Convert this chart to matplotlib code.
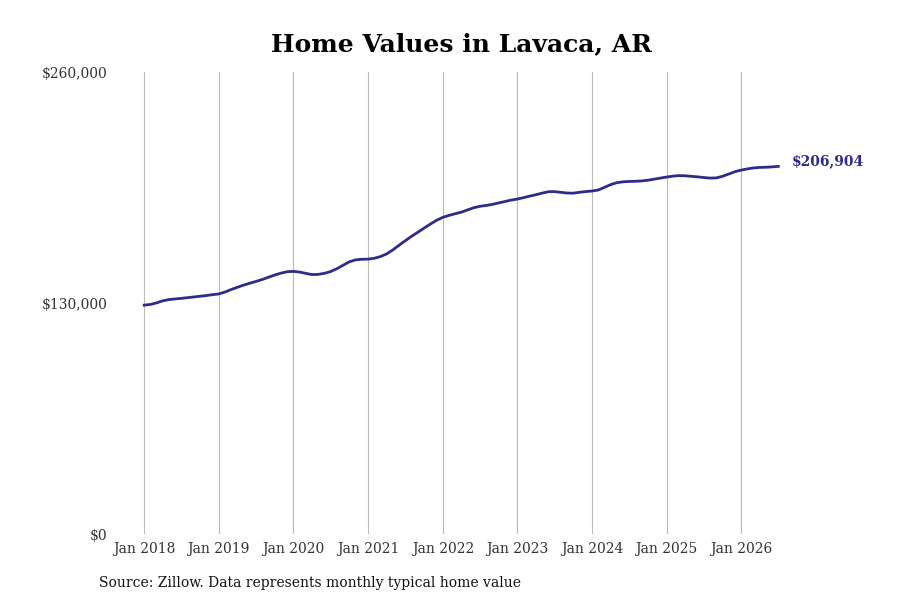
import numpy as np
import pandas as pd
import matplotlib
matplotlib.use("Agg")
import matplotlib.pyplot as plt
import matplotlib.dates as mdates
from matplotlib.ticker import FuncFormatter

# monthly typical home value, Jan 2018 - Jul 2026
values_2018 = [128800, 129200, 130000, 131200, 131900, 132300, 132600, 133000, 133400, 133800, 134200, 134700]
values_2019 = [135100, 136200, 137500, 138800, 140000, 141100, 142100, 143200, 144500, 145700, 146800, 147600]
values_2020 = [147800, 147400, 146700, 146000, 146100, 146700, 147700, 149300, 151300, 153200, 154300, 154600]
values_2021 = [154700, 155200, 156100, 157600, 159800, 162500, 165000, 167500, 169800, 172100, 174400, 176500]
values_2022 = [178200, 179300, 180200, 181100, 182300, 183600, 184400, 184900, 185500, 186300, 187100, 187900]
values_2023 = [188500, 189300, 190100, 190900, 191800, 192600, 192700, 192300, 191900, 191800, 192300, 192700]
values_2024 = [193000, 193600, 195000, 196600, 197700, 198200, 198400, 198500, 198700, 199100, 199700, 200300]
values_2025 = [200900, 201400, 201700, 201600, 201300, 201000, 200600, 200300, 200400, 201300, 202600, 203900]
values_2026 = [204800, 205500, 206000, 206300, 206400, 206600, 206904]

values = (values_2018 + values_2019 + values_2020 + values_2021 + values_2022
          + values_2023 + values_2024 + values_2025 + values_2026)
dates = pd.date_range("2018-01-01", periods=len(values), freq="MS")

title = "Home Values in Lavaca, AR"
source = "Source: Zillow. Data represents monthly typical home value"
y_ticks = [0, 130000, 260000]
line_color = "#2e2b8c"

plt.rcParams["font.family"] = "DejaVu Serif"

fig, ax = plt.subplots(figsize=(9, 6), dpi=100)
ax.plot(dates, values, color=line_color, linewidth=2)

ax.set_ylim(0, 260000)
ax.set_yticks(y_ticks)
ax.yaxis.set_major_formatter(FuncFormatter(lambda v, p: "${:,.0f}".format(v)))
ax.xaxis.set_major_locator(mdates.YearLocator())
ax.xaxis.set_major_formatter(mdates.DateFormatter("Jan %Y"))

ax.grid(axis="x", color="#bbbbbb", linewidth=0.8)
ax.grid(axis="y", visible=False)
for s in ax.spines.values():
    s.set_visible(False)
ax.tick_params(axis="both", length=0, labelsize=10, colors="#333333")
ax.tick_params(axis="x", pad=6)
ax.tick_params(axis="y", pad=3.5)

ax.annotate("${:,.0f}".format(values[-1]), xy=(dates[-1], values[-1]),
            xytext=(10, 4), textcoords="offset points",
            color=line_color, fontsize=10, fontweight="bold", va="center")

ax.set_title(title, fontsize=18, fontweight="bold", pad=15)
fig.text(0.11, 0.022, source, fontsize=10, color="#111111")

fig.savefig("out.png", dpi=100)
